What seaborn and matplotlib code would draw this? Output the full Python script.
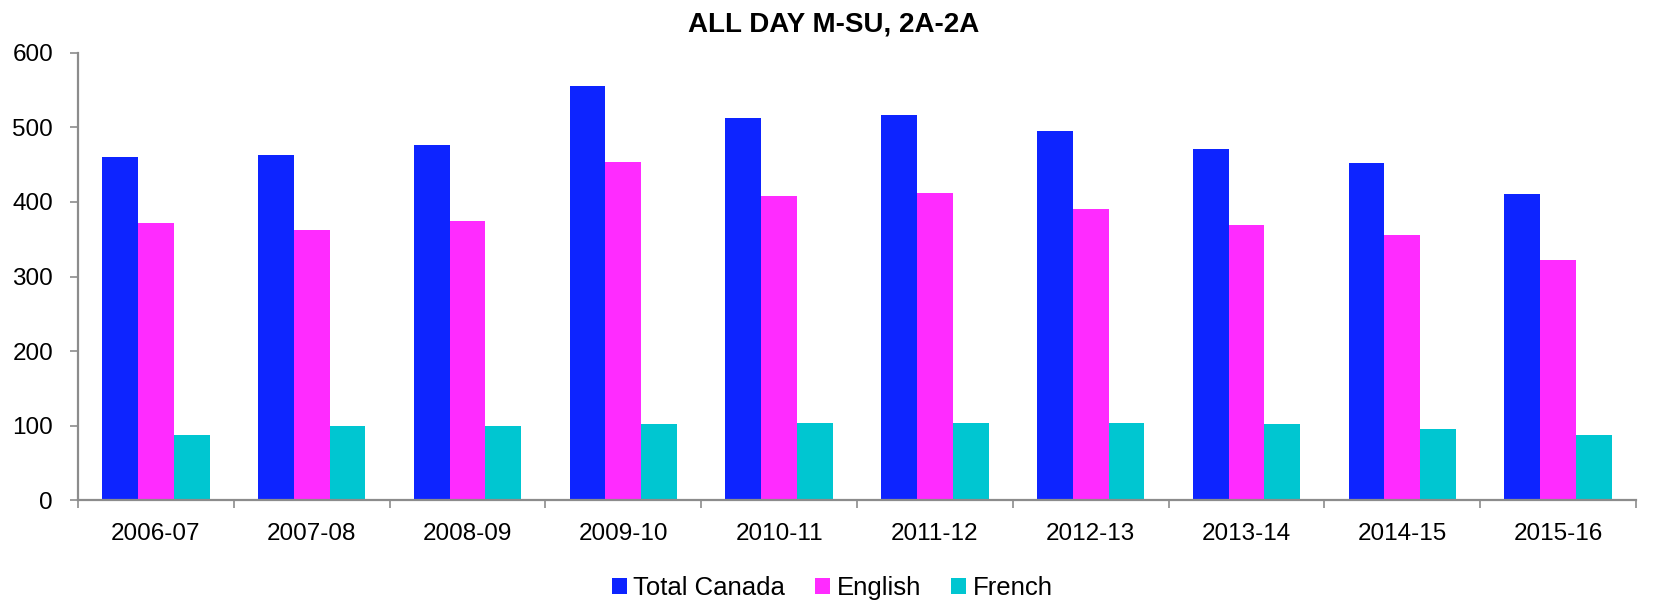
import matplotlib
matplotlib.use("Agg")
import matplotlib.pyplot as plt
import numpy as np
import pandas as pd
import seaborn as sns

seasons = ["2006-07", "2007-08", "2008-09", "2009-10", "2010-11",
           "2011-12", "2012-13", "2013-14", "2014-15", "2015-16"]
total_canada = [460, 463, 476, 555, 513, 516, 495, 471, 452, 410]
english = [372, 363, 375, 453, 408, 412, 391, 369, 355, 322]
french = [88, 99, 100, 102, 104, 103, 103, 102, 96, 87]
series_names = ["Total Canada", "English", "French"]
colors = ["#0D24FF", "#FF2BFF", "#00C6D1"]

df = pd.DataFrame({
    "season": seasons * 3,
    "series": np.repeat(series_names, len(seasons)),
    "value": total_canada + english + french,
})

sns.set_style("white")
plt.rcParams["font.family"] = ["Liberation Sans", "DejaVu Sans"]
plt.rcParams["text.color"] = "black"
plt.rcParams["xtick.color"] = "black"
plt.rcParams["ytick.color"] = "black"

W, H = 1653, 604
fig = plt.figure(figsize=(W / 100, H / 100), dpi=100)
ax = fig.add_axes([78 / W, 1 - 500.3 / H, (1636 - 78) / W, (500.3 - 52.7) / H])

sns.barplot(data=df, x="season", y="value", hue="series", palette=colors,
            width=0.69, gap=0, saturation=1, linewidth=0, ax=ax, legend=True)

ax.set_ylim(0, 600)
ax.set_xlim(-0.5, len(seasons) - 0.5)
ax.set_yticks(range(0, 601, 100))
ax.set_xlabel("")
ax.set_ylabel("")

for s in ["top", "right"]:
    ax.spines[s].set_visible(False)
for s in ["left", "bottom"]:
    ax.spines[s].set_color("#8c8c8c")
    ax.spines[s].set_linewidth(1.6)

ax.tick_params(axis="y", length=6, width=1.2, color="#8c8c8c", labelcolor="black",
               labelsize=17.5, left=True, pad=12)
ax.tick_params(axis="x", which="major", length=0, labelsize=17.5, labelcolor="black", pad=16.5)
ax.set_xticks(np.arange(-0.5, len(seasons), 1.0), minor=True)
ax.tick_params(axis="x", which="minor", length=6, width=1.2, color="#8c8c8c", bottom=True)

fig.text(834 / W, 1 - 32 / H, "ALL DAY M-SU, 2A-2A", ha="center", va="baseline",
         fontsize=20, fontweight="bold", color="black")

handles, labels = ax.get_legend_handles_labels()
ax.get_legend().remove()
fig.legend(handles, labels, loc="center", bbox_to_anchor=(832 / W, 1 - 588 / H), ncol=3,
           frameon=False, fontsize=18.5, handlelength=0.6, handleheight=0.6,
           handletextpad=0.25, columnspacing=1.15, borderpad=0)

fig.savefig("out.png", dpi=100)
